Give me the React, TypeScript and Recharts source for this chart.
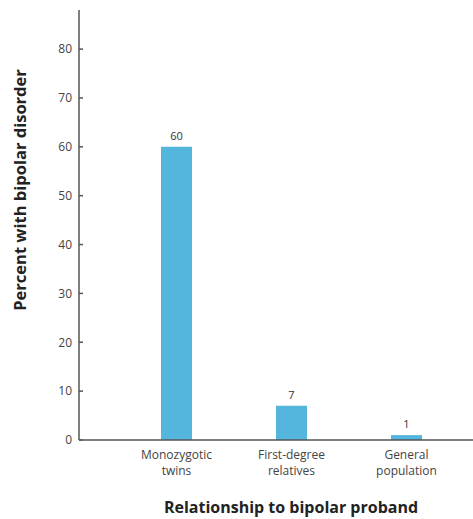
import { Bar, BarChart, LabelList, XAxis, YAxis, Label } from "recharts";

const categories = ["Monozygotic\ntwins", "First-degree\nrelatives", "General\npopulation"];
const percents = [60, 7, 1];
const yTicks = [0, 10, 20, 30, 40, 50, 60, 70, 80];

const data = categories.map((name, i) => ({ name, value: percents[i] }));

const font = "'Open Sans', 'Noto Sans', sans-serif";

function CategoryTick(props: any) {
  const { x, y, payload } = props;
  const lines = String(payload.value).split("\n");
  return (
    <g>
      {lines.map((line, i) => (
        <text key={i} x={x} y={y + 11 + i * 16} textAnchor="middle" fill="#444" fontSize={12} fontFamily={font}>
          {line}
        </text>
      ))}
    </g>
  );
}

function YTitle() {
  const cx = 26;
  const cy = 190;
  return (
    <text
      x={cx}
      y={cy}
      transform={`rotate(-90 ${cx} ${cy})`}
      textAnchor="middle"
      fill="#222"
      fontSize={16.5}
      fontWeight="bold"
      fontFamily={font}
    >
      Percent with bipolar disorder
    </text>
  );
}

function XTitle(props: any) {
  const vb = props.viewBox;
  return (
    <text
      x={vb.x + vb.width / 2 + 15}
      y={vb.y + 73}
      textAnchor="middle"
      fill="#222"
      fontSize={16}
      fontWeight="bold"
      fontFamily={font}
    >
      Relationship to bipolar proband
    </text>
  );
}

export default function App() {
  return (
    <div style={{ position: "absolute", left: 0, top: 0, background: "#fff" }}>
      <BarChart width={473} height={519} data={data} margin={{ top: 10, right: 0, bottom: 0, left: 0 }}>
        <XAxis
          dataKey="name"
          height={79}
          padding={{ left: 40, right: 9 }}
          tickLine={false}
          interval={0}
          stroke="#555"
          strokeWidth={1.5}
          tick={<CategoryTick />}
        >
          <Label content={<XTitle />} />
        </XAxis>
        <YAxis
          width={79}
          domain={[0, 88]}
          ticks={yTicks}
          allowDataOverflow
          stroke="#555"
          strokeWidth={1.5}
          tickSize={-4}
          tickMargin={11}
          tick={{ fill: "#444", fontSize: 12, fontFamily: font }}
        >
          <Label content={<YTitle />} />
        </YAxis>
        <Bar dataKey="value" fill="#54b6dc" barSize={31} isAnimationActive={false}>
          <LabelList dataKey="value" position="top" offset={7} fill="#333" fontSize={11} fontFamily={font} />
        </Bar>
      </BarChart>
    </div>
  );
}
